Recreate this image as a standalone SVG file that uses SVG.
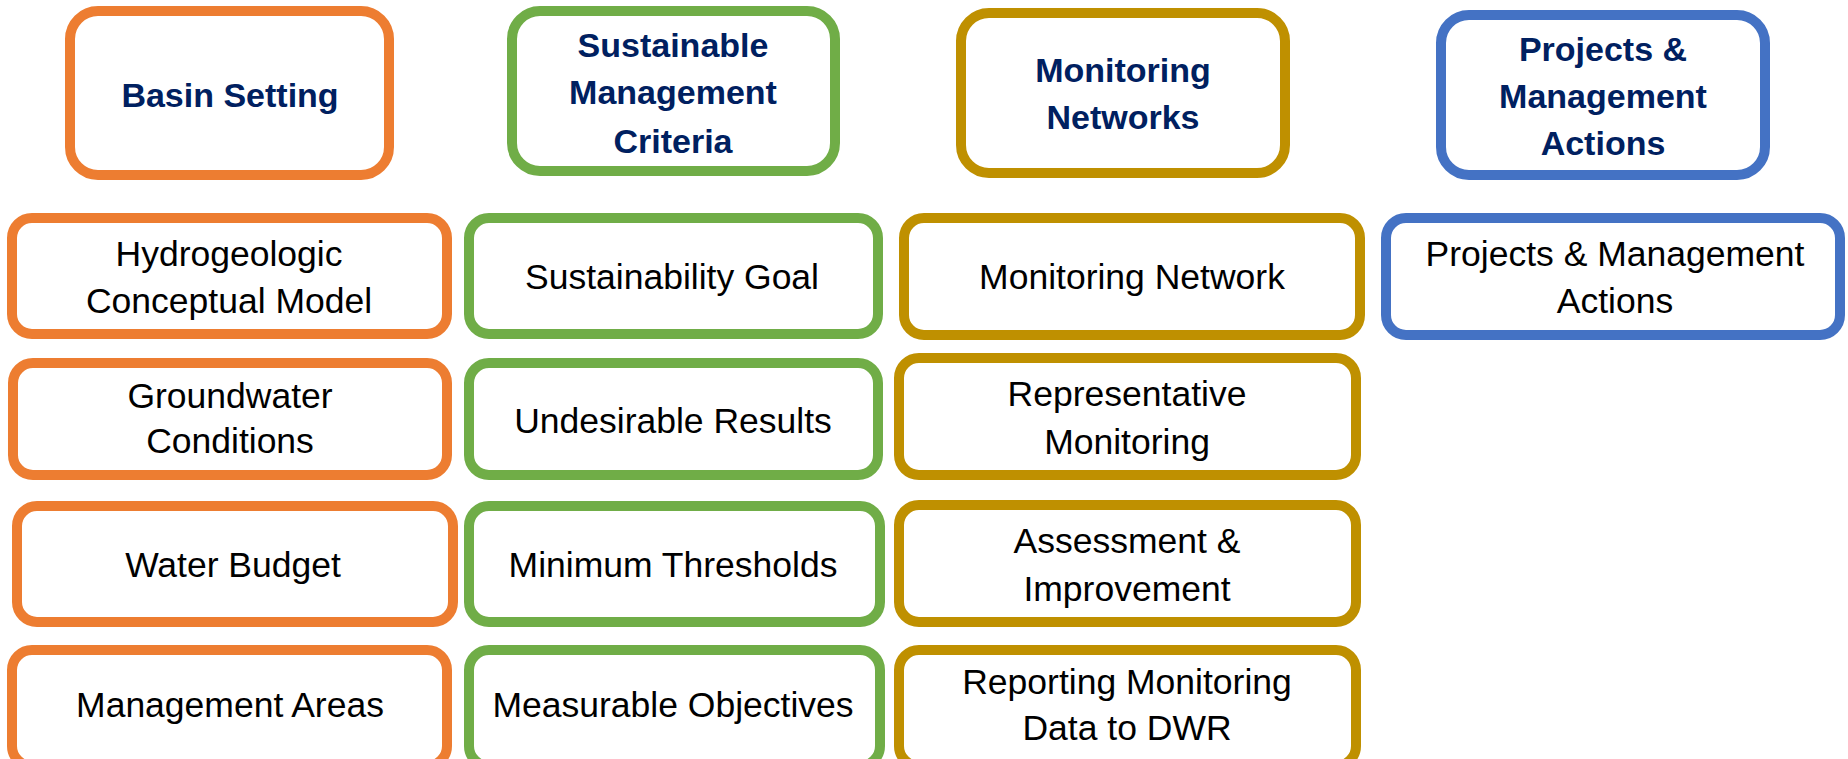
<svg xmlns="http://www.w3.org/2000/svg" width="1848" height="759" viewBox="0 0 1848 759">
<style>
rect{fill:#fff;stroke-width:10}
.o{stroke:#ED7D31}.g{stroke:#70AD47}.y{stroke:#BF9000}.b{stroke:#4472C4}
.h{font-family:"Liberation Sans",Arial,sans-serif;font-weight:bold;font-size:34px;fill:#002060;text-anchor:middle}
.t{font-family:"Liberation Sans",Arial,sans-serif;font-size:35.5px;fill:#000;text-anchor:middle}
</style>
<rect width="1848" height="759" style="fill:#fff;stroke:none"/>
<g id="basin-setting"><rect class="o" x="70" y="11" width="319" height="164" rx="28"/><text class="h" x="230" y="107">Basin Setting</text></g>
<g id="smc"><rect class="g" x="512" y="11" width="323" height="160" rx="28"/><text class="h" x="673" y="57">Sustainable</text><text class="h" x="673" y="104">Management</text><text class="h" x="673" y="153">Criteria</text></g>
<g id="monitoring-networks"><rect class="y" x="961" y="13" width="324" height="160" rx="28"/><text class="h" x="1123" y="82">Monitoring</text><text class="h" x="1123" y="129">Networks</text></g>
<g id="projects"><rect class="b" x="1441" y="15" width="324" height="160" rx="28"/><text class="h" x="1603" y="61">Projects &amp;</text><text class="h" x="1603" y="108">Management</text><text class="h" x="1603" y="155">Actions</text></g>

<g id="hcm"><rect class="o" x="12" y="218" width="435" height="116" rx="20"/><text class="t" x="229" y="266">Hydrogeologic</text><text class="t" x="229" y="313">Conceptual Model</text></g>
<g id="gw-conditions"><rect class="o" x="13" y="363" width="434" height="112" rx="20"/><text class="t" x="230" y="408">Groundwater</text><text class="t" x="230" y="453">Conditions</text></g>
<g id="water-budget"><rect class="o" x="17" y="506" width="436" height="116" rx="20"/><text class="t" x="233" y="577">Water Budget</text></g>
<g id="mgmt-areas"><rect class="o" x="12" y="650" width="435" height="116" rx="20"/><text class="t" x="230" y="717">Management Areas</text></g>

<g id="goal"><rect class="g" x="469" y="218" width="409" height="116" rx="20"/><text class="t" x="672" y="289">Sustainability Goal</text></g>
<g id="undesirable"><rect class="g" x="469" y="363" width="409" height="112" rx="20"/><text class="t" x="673" y="433">Undesirable Results</text></g>
<g id="min-thresholds"><rect class="g" x="469" y="506" width="411" height="116" rx="20"/><text class="t" x="673" y="577">Minimum Thresholds</text></g>
<g id="objectives"><rect class="g" x="469" y="650" width="411" height="116" rx="20"/><text class="t" x="673" y="717">Measurable Objectives</text></g>

<g id="mon-network"><rect class="y" x="904" y="218" width="456" height="117" rx="20"/><text class="t" x="1132" y="289">Monitoring Network</text></g>
<g id="representative"><rect class="y" x="899" y="358" width="457" height="117" rx="20"/><text class="t" x="1127" y="406">Representative</text><text class="t" x="1127" y="454">Monitoring</text></g>
<g id="assessment"><rect class="y" x="899" y="505" width="457" height="117" rx="20"/><text class="t" x="1127" y="553">Assessment &amp;</text><text class="t" x="1127" y="601">Improvement</text></g>
<g id="reporting"><rect class="y" x="899" y="650" width="457" height="116" rx="20"/><text class="t" x="1127" y="694">Reporting Monitoring</text><text class="t" x="1127" y="740">Data to DWR</text></g>

<g id="pma"><rect class="b" x="1386" y="218" width="454" height="117" rx="20"/><text class="t" x="1615" y="266">Projects &amp; Management</text><text class="t" x="1615" y="313">Actions</text></g>
<g id="connectors"></g>
</svg>
